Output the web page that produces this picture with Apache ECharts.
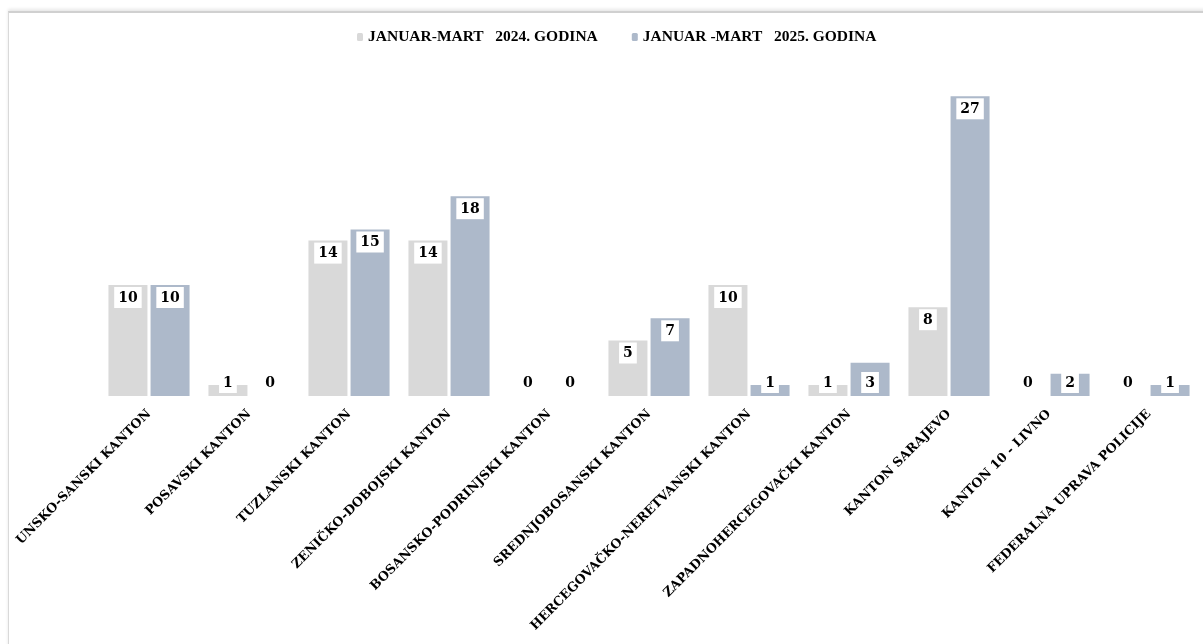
<!DOCTYPE html>
<html>
<head>
<meta charset="utf-8">
<script src="https://cdn.jsdelivr.net/npm/echarts@6/dist/echarts.min.js"></script>
<style>
  html, body { margin: 0; padding: 0; background: #fff; }
  #frame {
    position: absolute; left: 8px; top: 11px; width: 1210px; height: 650px;
    border: 1px solid #d9d9d9; border-top: 2px solid #d0d0d0;
    box-shadow: 0 -2px 3px #e8e8e8;
  }
  #chart { position: absolute; left: 0; top: 0; width: 1203px; height: 644px; }
</style>
</head>
<body>
<div id="frame"></div>
<div id="chart"></div>
<script>
// kategorije (kantoni)
var categories = [
  'UNSKO-SANSKI KANTON',
  'POSAVSKI KANTON',
  'TUZLANSKI KANTON',
  'ZENIČKO-DOBOJSKI KANTON',
  'BOSANSKO-PODRINJSKI KANTON',
  'SREDNJOBOSANSKI KANTON',
  'HERCEGOVAČKO-NERETVANSKI KANTON',
  'ZAPADNOHERCEGOVAČKI KANTON',
  'KANTON SARAJEVO',
  'KANTON 10 - LIVNO',
  'FEDERALNA UPRAVA POLICIJE'
];
var seriesNames = ['JANUAR-MART   2024. GODINA', 'JANUAR -MART   2025. GODINA'];
var values2024 = [10, 1, 14, 14, 0, 5, 10, 1, 8, 0, 0];
var values2025 = [10, 0, 15, 18, 0, 7, 1, 3, 27, 2, 1];

var SERIF = '"Liberation Serif", serif';
var WIDE = '"DejaVu Serif", serif';

function withLabels(vals) {
  return vals.map(function (v) {
    return {
      value: v,
      label: v <= 3 ? { position: 'insideBottom', distance: 3 } : { position: 'insideTop', distance: 2 }
    };
  });
}

var labelStyle = {
  show: true,
  color: '#000',
  fontFamily: WIDE,
  fontWeight: 'bold',
  fontSize: 14,
  backgroundColor: '#fff',
  padding: [4, 4, 3, 4]
};

var chart = echarts.init(document.getElementById('chart'));
chart.setOption({
  animation: false,
  legend: {
    top: 24,
    left: 352,
    itemWidth: 6,
    itemHeight: 8,
    itemGap: 34,
    textStyle: { fontFamily: SERIF, fontWeight: 'bold', fontSize: 15.5, color: '#000' },
    data: seriesNames
  },
  grid: { left: 99, right: 4, top: 63, bottom: 248 },
  xAxis: {
    type: 'category',
    data: categories,
    axisLine: { show: false },
    axisTick: { show: false },
    axisLabel: {
      interval: 0,
      rotate: 45,
      margin: 16,
      color: '#000',
      fontFamily: WIDE,
      fontWeight: 'bold',
      fontSize: 12.7
    }
  },
  yAxis: {
    type: 'value',
    min: 0,
    max: 30,
    show: false,
    splitLine: { show: false }
  },
  series: [
    {
      name: seriesNames[0],
      type: 'bar',
      barWidth: 39,
      barGap: '8%',
      itemStyle: { color: '#d9d9d9' },
      label: labelStyle,
      data: withLabels(values2024)
    },
    {
      name: seriesNames[1],
      type: 'bar',
      barWidth: 39,
      barGap: '8%',
      itemStyle: { color: '#adb9ca' },
      label: labelStyle,
      data: withLabels(values2025)
    }
  ]
});
</script>
</body>
</html>
